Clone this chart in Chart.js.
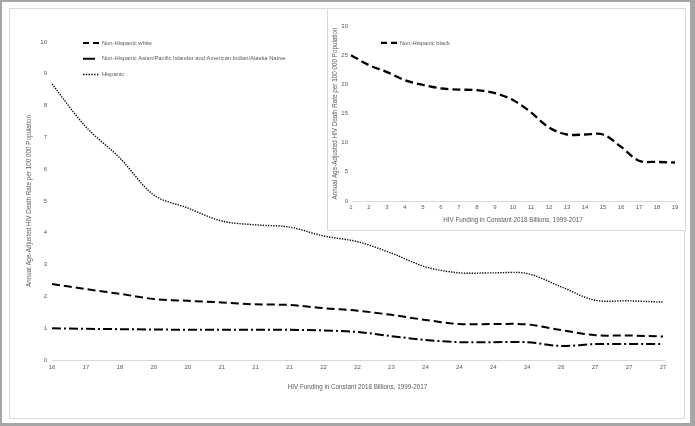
<!DOCTYPE html>
<html>
<head>
<meta charset="utf-8">
<script src="https://cdn.jsdelivr.net/npm/chart.js@4.4.1/dist/chart.umd.min.js"></script>
<style>
  body { margin: 0; background: #fff; }
  #outer { position: absolute; left: 0; top: 0; width: 688px; height: 421px; border-style: solid; border-color: #a6a6a6; border-width: 2px 5px 3px 2px; }
  .panel { position: absolute; border: 1px solid #d9d9d9; background: #fff; }
  #mainBox { left: 9px; top: 8px; width: 674px; height: 409px; }
  #insetBox { left: 327px; top: 8px; width: 357px; height: 221px; }
</style>
</head>
<body>
<div id="outer"></div>
<div class="panel" id="mainBox"><canvas id="mainChart"></canvas></div>
<div class="panel" id="insetBox"><canvas id="insetChart"></canvas></div>
<script>
// main chart: x tick labels are funding in constant 2018 billions, 1999-2017
const fundingLabels = ['16', '17', '18', '20', '20', '21', '21', '21', '22', '22', '23', '24', '24', '24', '24', '26', '27', '27', '27'];
const white = [2.39, 2.23, 2.08, 1.92, 1.86, 1.81, 1.75, 1.73, 1.63, 1.55, 1.42, 1.26, 1.13, 1.13, 1.12, 0.94, 0.78, 0.77, 0.74];
const asianAian = [1.0, 0.98, 0.97, 0.96, 0.95, 0.95, 0.95, 0.95, 0.93, 0.88, 0.75, 0.63, 0.56, 0.56, 0.56, 0.44, 0.5, 0.5, 0.5];
const hispanic = [8.68, 7.33, 6.35, 5.19, 4.78, 4.37, 4.25, 4.18, 3.9, 3.72, 3.36, 2.93, 2.74, 2.74, 2.72, 2.3, 1.88, 1.86, 1.82];

// inset chart: Non-Hispanic black, x axis just numbered 1-19
const insetLabels = ['1', '2', '3', '4', '5', '6', '7', '8', '9', '10', '11', '12', '13', '14', '15', '16', '17', '18', '19'];
const black = [25, 23.3, 22.1, 20.7, 19.9, 19.3, 19.1, 19.0, 18.5, 17.3, 15.2, 12.6, 11.4, 11.4, 11.4, 9.3, 6.9, 6.7, 6.6];

const xTitle = 'HIV Funding in Constant 2018 Billions, 1999-2017';
const yTitle = 'Annual Age-Adjusted HIV Death Rate per 100 000 Population';

const grey = '#595959';
const family = "'Liberation Sans', Arial, sans-serif";
const tickFont = { family: family, size: 6 };
const legendFont = { family: family, size: 5.8 };
const titleFont = { family: family, size: 6.3 };

// put the legend inside the plot, at an offset from the chart area corner
const legendSpot = {
  id: 'legendSpot',
  afterLayout(chart, args, opts) {
    const lg = chart.legend;
    const area = chart.chartArea;
    lg.left = area.left + opts.x;
    lg.top = area.top + opts.y;
    lg.right = lg.left + lg.width;
    lg.bottom = lg.top + lg.height;
  }
};

// legend samples use their own dash pattern (legendDash) when a dataset has one
function legendLabels(chart) {
  const items = Chart.defaults.plugins.legend.labels.generateLabels(chart);
  items.forEach(item => {
    const ds = chart.data.datasets[item.datasetIndex];
    if (ds.legendDash) item.lineDash = ds.legendDash;
  });
  return items;
}

function legendOpts() {
  return {
    position: 'chartArea',
    align: 'start',
    labels: {
      usePointStyle: true,
      pointStyle: 'line',
      pointStyleWidth: 16,
      padding: 10,
      color: grey,
      font: legendFont,
      generateLabels: legendLabels
    }
  };
}

new Chart(document.getElementById('mainChart'), {
  type: 'line',
  data: {
    labels: fundingLabels,
    datasets: [
      {
        label: 'Non-Hispanic white',
        data: white,
        borderColor: '#000',
        borderWidth: 2,
        borderDash: [8, 4],
        legendDash: [6, 4]
      },
      {
        label: 'Non-Hispanic Asian/Pacific Islander and American Indian/Alaska Native',
        data: asianAian,
        borderColor: '#000',
        borderWidth: 2,
        borderDash: [9, 3, 2, 3],
        legendDash: [12, 4]
      },
      {
        label: 'Hispanic',
        data: hispanic,
        borderColor: '#000',
        borderWidth: 1.4,
        borderDash: [1.3, 1.3],
        legendDash: [1.4, 1.4]
      }
    ]
  },
  options: {
    responsive: true,
    maintainAspectRatio: false,
    animation: false,
    layout: { padding: { top: 33, right: 21 } },
    elements: {
      point: { radius: 0 },
      line: { tension: 0.33, fill: false }
    },
    plugins: {
      legend: legendOpts(),
      legendSpot: { x: 21, y: -12 },
      tooltip: { enabled: false }
    },
    scales: {
      x: {
        grid: { display: false, drawTicks: false },
        border: { color: '#d9d9d9' },
        ticks: { color: grey, font: tickFont, padding: 4, autoSkip: false, maxRotation: 0 },
        title: { display: true, text: xTitle, color: grey, font: titleFont, padding: { top: 4, bottom: 27 } },
        afterFit: s => { s.height = 58; }
      },
      y: {
        min: 0,
        max: 10,
        grid: { display: false, drawTicks: false },
        border: { display: false },
        ticks: { stepSize: 1, color: grey, font: tickFont, padding: 5 },
        title: { display: true, text: yTitle, color: grey, font: titleFont, padding: { top: 15, bottom: 0 } },
        afterFit: s => { s.width = 42; }
      }
    }
  },
  plugins: [legendSpot]
});

new Chart(document.getElementById('insetChart'), {
  type: 'line',
  data: {
    labels: insetLabels,
    datasets: [{
      label: 'Non-Hispanic black',
      data: black,
      borderColor: '#000',
      borderWidth: 2.3,
      borderDash: [8, 4],
      legendDash: [6, 4]
    }]
  },
  options: {
    responsive: true,
    maintainAspectRatio: false,
    animation: false,
    layout: { padding: { top: 17, right: 10 } },
    elements: {
      point: { radius: 0 },
      line: { tension: 0.33, fill: false }
    },
    plugins: {
      legend: legendOpts(),
      legendSpot: { x: 20, y: 4 },
      tooltip: { enabled: false }
    },
    scales: {
      x: {
        grid: { display: false, drawTicks: false },
        border: { color: '#d9d9d9' },
        ticks: { color: grey, font: tickFont, padding: 3, autoSkip: false, maxRotation: 0 },
        title: { display: true, text: xTitle, color: grey, font: titleFont, padding: { top: 2, bottom: 6 } },
        afterFit: s => { s.height = 29; }
      },
      y: {
        min: 0,
        max: 30,
        grid: { display: false, drawTicks: false },
        border: { display: false },
        ticks: { stepSize: 5, color: grey, font: tickFont, padding: 3 },
        title: { display: true, text: yTitle, color: grey, font: titleFont, padding: { top: 3, bottom: 0 } },
        afterFit: s => { s.width = 23; }
      }
    }
  },
  plugins: [legendSpot]
});
</script>
</body>
</html>
